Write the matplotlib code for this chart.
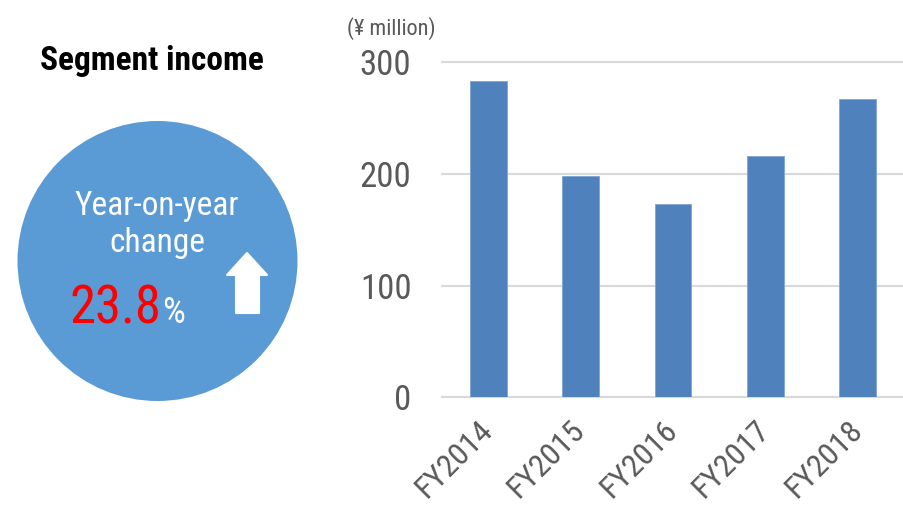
import matplotlib.pyplot as plt
import numpy as np
from matplotlib import font_manager
from matplotlib.patches import Circle, Polygon

years = ['FY2014', 'FY2015', 'FY2016', 'FY2017', 'FY2018']
income = [283, 198, 173, 216, 267]   # ¥ million
yoy_change = 23.8                    # %
y_ticks = [0, 100, 200, 300]

installed = {f.name for f in font_manager.fontManager.ttflist}
candidates = ['Liberation Sans Narrow', 'Arial Narrow', 'Roboto Condensed',
              'Archivo Narrow', 'PT Sans Narrow', 'Liberation Sans']
narrow = next(name for name in candidates if name in installed)
plt.rcParams['font.family'] = [narrow, 'DejaVu Sans']

bar_color = '#4F81BD'
circle_color = '#5B9BD5'
grid_color = '#D9D9D9'
tick_color = '#595959'

fig = plt.figure(figsize=(9.04, 5.09), dpi=100)

# left panel drawn in pixel coordinates (y grows downward)
panel = fig.add_axes([0, 0, 1, 1], zorder=0)
panel.set_xlim(0, 904)
panel.set_ylim(509, 0)
panel.axis('off')

panel.text(40, 70, 'Segment income', fontsize=24, fontweight='bold',
           color='black', ha='left', va='baseline')
panel.add_patch(Circle((157.5, 261), 140, facecolor=circle_color, edgecolor='none'))
panel.text(157, 215, 'Year-on-year', fontsize=24, color='white',
           ha='center', va='baseline')
panel.text(157, 252, 'change', fontsize=24, color='white',
           ha='center', va='baseline')
panel.text(70, 323, f'{yoy_change:.1f}', fontsize=38, color='#FF0000',
           ha='left', va='baseline')
panel.text(162, 323, '%', fontsize=26, color='white', ha='left', va='baseline')

arrow = np.array([[247, 253], [267, 275], [259, 275], [259, 313],
                  [236, 313], [236, 275], [227, 275]])
panel.add_patch(Polygon(arrow, closed=True, facecolor='white', edgecolor='white',
                        linewidth=1.5, joinstyle='round'))

# bar chart
ax = fig.add_axes([442 / 904, 111.7 / 509, 462 / 904, 335.3 / 509], zorder=1)
ax.patch.set_alpha(0)
x = np.arange(len(years))
ax.bar(x, income, width=0.4, color=bar_color, edgecolor='#7FA3D3',
       linewidth=0.6, zorder=3)

ax.set_xlim(-0.5, len(years) - 0.5)
ax.set_ylim(0, 300)
ax.set_yticks(y_ticks)
ax.set_xticks(x)
ax.set_xticklabels(years, rotation=45, ha='right', va='center',
                   rotation_mode='anchor')
ax.tick_params(axis='y', length=0, pad=22, labelsize=25, labelcolor=tick_color)
ax.tick_params(axis='x', length=0, pad=20, labelsize=23, labelcolor=tick_color)

ax.grid(axis='y', color=grid_color, linewidth=1.5, zorder=0)
for side in ['top', 'right', 'left']:
    ax.spines[side].set_visible(False)
ax.spines['bottom'].set_color(grid_color)
ax.spines['bottom'].set_linewidth(1.5)
for line in ax.get_ygridlines():
    line.set_clip_on(False)

fig.text(347 / 904, 1 - 17 / 509, '(¥ million)', fontsize=16, color=tick_color,
         ha='left', va='top')

fig.savefig('out.png', dpi=100)
